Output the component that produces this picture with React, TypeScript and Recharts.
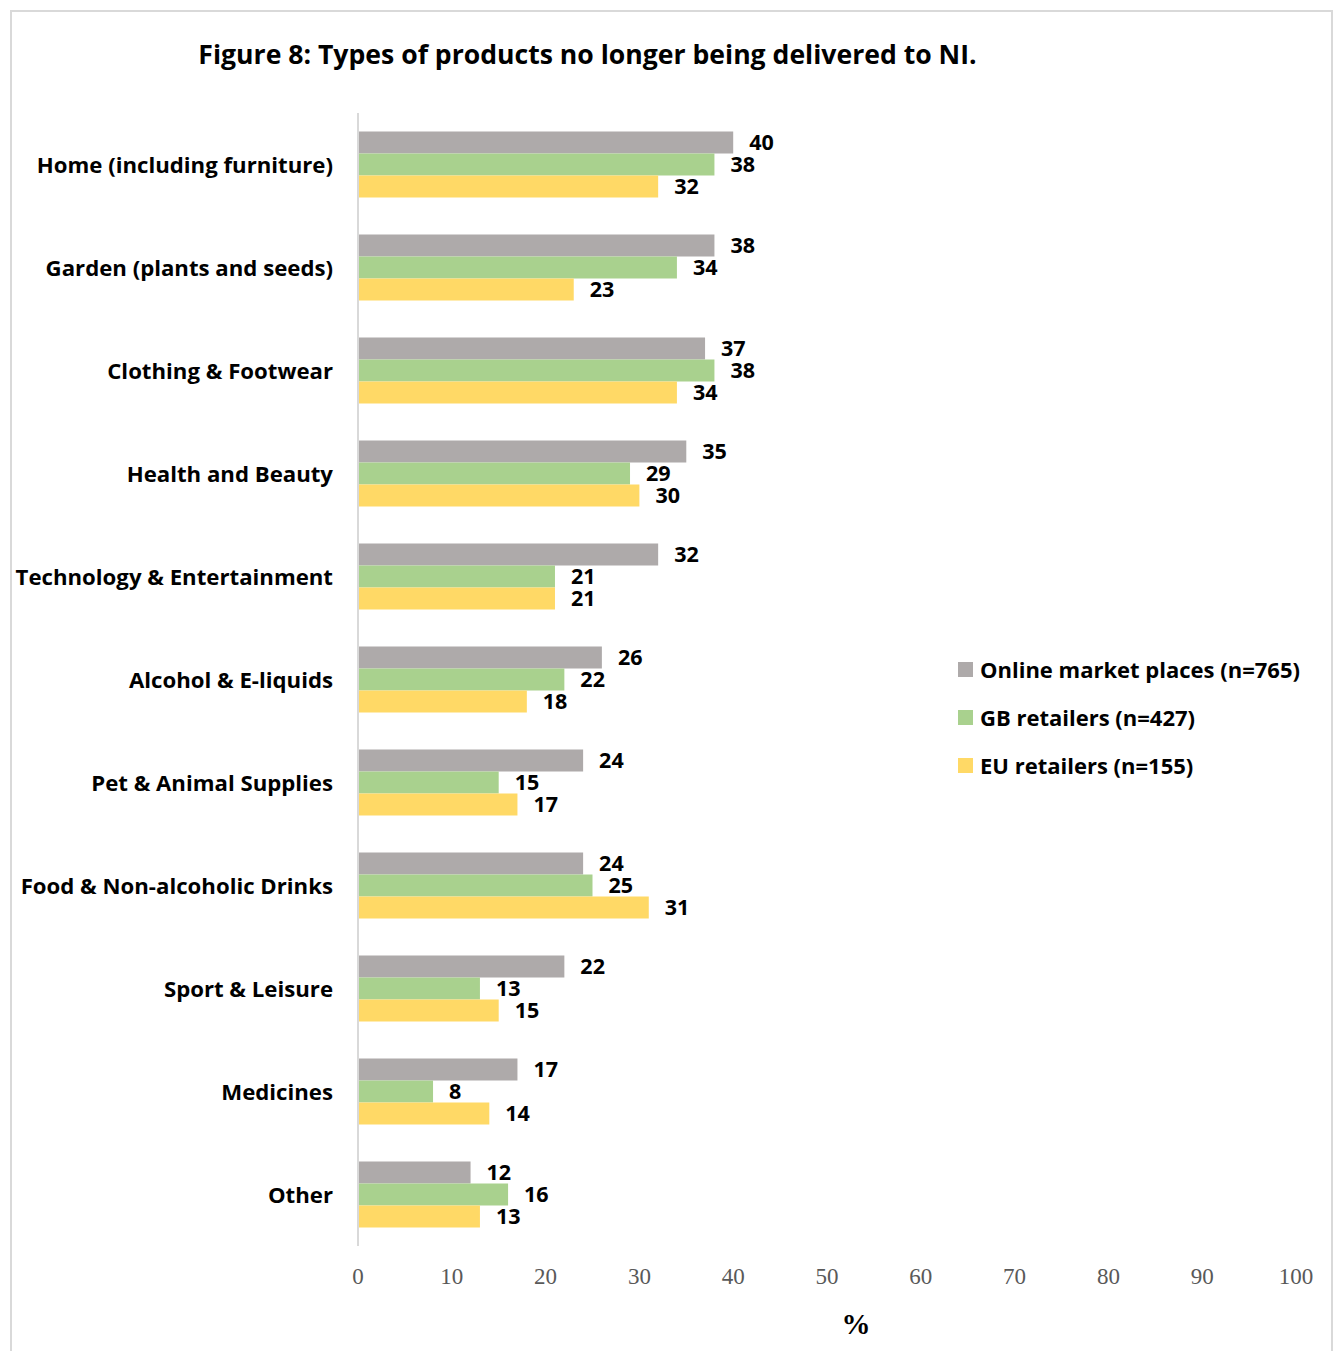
import React from 'react';
import { BarChart, Bar, XAxis, YAxis, LabelList } from 'recharts';

const categories = [
  'Home (including furniture)',
  'Garden (plants and seeds)',
  'Clothing & Footwear',
  'Health and Beauty',
  'Technology & Entertainment',
  'Alcohol & E-liquids',
  'Pet & Animal Supplies',
  'Food & Non-alcoholic Drinks',
  'Sport & Leisure',
  'Medicines',
  'Other',
];
const onlineMarket = [40, 38, 37, 35, 32, 26, 24, 24, 22, 17, 12];
const gbRetailers = [38, 34, 38, 29, 21, 22, 15, 25, 13, 8, 16];
const euRetailers = [32, 23, 34, 30, 21, 18, 17, 31, 15, 14, 13];
const xTicks = [0, 10, 20, 30, 40, 50, 60, 70, 80, 90, 100];

const seriesNames = ['Online market places (n=765)', 'GB retailers (n=427)', 'EU retailers (n=155)'];
const colors = ['#AEAAAA', '#A9D18E', '#FFD966'];

const data = categories.map((c, i) => ({
  name: c,
  online: onlineMarket[i],
  gb: gbRetailers[i],
  eu: euRetailers[i],
}));

const FONT = '"Open Sans", Lato, sans-serif';

const YTick = (props: any) => {
  const { y, payload } = props;
  return (
    <text x={358 - 25} y={y} textAnchor="end" dominantBaseline="central" fontFamily={FONT} fontWeight={700} fontSize={22.2} fill="#000">
      {payload.value}
    </text>
  );
};

const XTick = (props: any) => {
  const { x, payload } = props;
  return (
    <text x={x} y={1276} textAnchor="middle" dominantBaseline="central" fontFamily='"Liberation Serif", serif' fontSize={23} fill="#595959">
      {payload.value}
    </text>
  );
};

export default function App() {
  return (
    <div style={{ position: 'absolute', left: 0, top: 0, width: 1341, height: 1351, overflow: 'hidden', background: '#fff' }}>
      <div style={{ position: 'absolute', left: 10, top: 10, width: 1323, height: 1360, border: '2px solid #d9d9d9', boxSizing: 'border-box' }} />
      <div style={{ position: 'absolute', left: 0, width: 1175, top: 36, textAlign: 'center', fontFamily: FONT, fontWeight: 700, fontSize: 26.6, color: '#000', whiteSpace: 'nowrap' }}>
        Figure 8: Types of products no longer being delivered to NI.
      </div>
      <div style={{ position: 'absolute', left: 836, width: 40, top: 1308, textAlign: 'center', fontFamily: '"Liberation Serif", serif', fontWeight: 700, fontSize: 29, color: '#000' }}>
        %
      </div>
      <div style={{ position: 'absolute', left: 958, top: 645, fontFamily: FONT, fontWeight: 700, fontSize: 22, color: '#000' }}>
        {seriesNames.map((n, i) => (
          <div key={n} style={{ display: 'flex', alignItems: 'center', height: 48, whiteSpace: 'nowrap' }}>
            <div style={{ width: 15, height: 15, background: colors[i], marginRight: 7 }} />
            <span>{n}</span>
          </div>
        ))}
      </div>
      <div style={{ position: 'absolute', left: 0, top: 0 }}>
        <BarChart
          width={1341}
          height={1351}
          data={data}
          layout="vertical"
          margin={{ top: 113, right: 45, bottom: 0, left: 0 }}
          barCategoryGap="18%"
          barGap={0}
        >
          <XAxis
            type="number"
            domain={[0, 100]}
            ticks={xTicks}
            axisLine={false}
            tickLine={false}
            height={105}
            tick={<XTick />}
            interval={0}
          />
          <YAxis
            type="category"
            dataKey="name"
            width={358}
            axisLine={{ stroke: '#d9d9d9', strokeWidth: 2 }}
            tickLine={false}
            tick={<YTick />}
            interval={0}
          />
          <Bar dataKey="online" name={seriesNames[0]} fill={colors[0]} isAnimationActive={false}>
            <LabelList dataKey="online" position="right" offset={16} fill="#000" fontFamily={FONT} fontWeight={700} fontSize={21.5} />
          </Bar>
          <Bar dataKey="gb" name={seriesNames[1]} fill={colors[1]} isAnimationActive={false}>
            <LabelList dataKey="gb" position="right" offset={16} fill="#000" fontFamily={FONT} fontWeight={700} fontSize={21.5} />
          </Bar>
          <Bar dataKey="eu" name={seriesNames[2]} fill={colors[2]} isAnimationActive={false}>
            <LabelList dataKey="eu" position="right" offset={16} fill="#000" fontFamily={FONT} fontWeight={700} fontSize={21.5} />
          </Bar>
        </BarChart>
      </div>
    </div>
  );
}
